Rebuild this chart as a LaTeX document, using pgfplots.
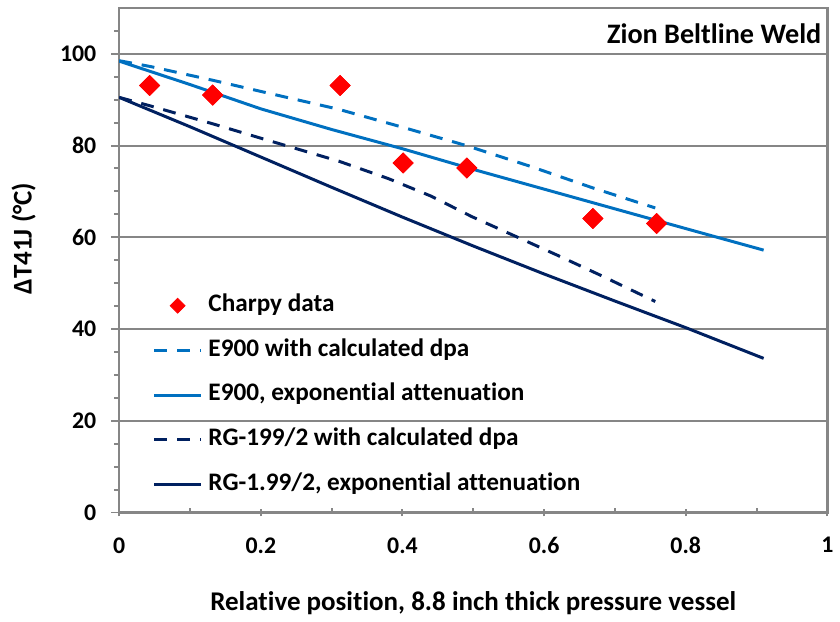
\documentclass[border=0pt]{standalone}
\usepackage{pgfplots}
\pgfplotsset{compat=1.18}
\usepackage{fontspec}
\setmainfont[Ligatures={NoCommon}]{Carlito}
\definecolor{lblue}{RGB}{0,112,192}
\definecolor{navy}{RGB}{0,32,96}
\definecolor{axgray}{RGB}{134,134,134}
\pgfplotsset{
  linelegend/.style={legend image code/.code={\draw[##1] (0pt,0pt) -- (23.5pt,0pt);}},
  marklegend/.style={legend image code/.code={\draw[##1] plot coordinates {(11.75pt,0pt)};}},
}
\begin{document}
\begin{tikzpicture}
\begin{axis}[
  scale only axis, width=356.5pt, height=254pt,
  xmin=0, xmax=1, ymin=0, ymax=110,
  xtick={0,0.2,0.4,0.6,0.8,1}, xticklabels={0,0.2,0.4,0.6,0.8,1},
  minor xtick={0.1,0.3,0.5,0.7,0.9},
  ytick={0,20,40,60,80,100},
  minor ytick={5,10,15,25,30,35,45,50,55,65,70,75,85,90,95,105},
  tick pos=left, tick align=outside,
  major tick length=4pt, minor tick length=2.5pt,
  every tick/.style={axgray, line width=1pt},
  every major x tick/.append style={yshift=2pt},
  every minor x tick/.append style={yshift=2.5pt},
  axis line style={axgray, line width=1.25pt},
  ymajorgrids=true,
  major grid style={axgray, line width=1pt},
  /pgf/number format/assume math mode=true,
  ticklabel style={font=\fontsize{12}{14}\selectfont\bfseries},
  xticklabel style={yshift=-5pt},
  yticklabel style={xshift=-4pt},
  xlabel={Relative position, 8.8 inch thick pressure vessel},
  ylabel={ΔT41J (°C)},
  xlabel style={font=\fontsize{13.6}{16}\selectfont\bfseries, at={(axis description cs:0.5,-0.18)}, anchor=center},
  ylabel style={font=\fontsize{13.6}{16}\selectfont\bfseries, at={(axis description cs:-0.135,0.543)}, anchor=center},
  legend style={draw=none, fill=none, at={(axis description cs:0.047,0.434)}, anchor=north west,
    font=\fontsize{12.7}{14}\selectfont\bfseries, row sep=10.6pt, inner sep=0pt,
    nodes={inner sep=0pt, text height=8.9pt, text depth=3pt}, /tikz/column sep=3pt},
  legend cell align=left,
  linelegend,
]
% Charpy data (legend entry)
\addplot[only marks, mark=square*, mark size=3.54pt, mark options={rotate=45, fill=red, draw=red},
  marklegend, legend image post style={mark size=2.65pt}]
  coordinates {(0.043,93.1) (0.132,91.0) (0.312,93.1) (0.401,76.2) (0.491,75.1) (0.669,64.1) (0.759,63.0)};
\addlegendentry{Charpy data}
% E900 with calculated dpa
\addplot[lblue, line width=1.5pt, dash pattern=on 6.5pt off 5pt]
  coordinates {(0,98.5) (0.045,97.2) (0.133,94.2) (0.2,91.8) (0.31,87.9) (0.4,84.0) (0.49,80.0) (0.58,75.5) (0.67,70.7) (0.757,66.4)};
\addlegendentry{E900 with calculated dpa}
% E900, exponential attenuation
\addplot[lblue, line width=1.5pt]
  coordinates {(0,98.4) (0.1,93.3) (0.2,88.0) (0.3,83.5) (0.4,79.3) (0.5,74.8) (0.6,70.5) (0.7,66.2) (0.8,61.9) (0.91,57.2)};
\addlegendentry{E900, exponential attenuation}
% RG-199/2 with calculated dpa
\addplot[navy, line width=1.5pt, dash pattern=on 6.5pt off 5pt]
  coordinates {(0,90.5) (0.045,88.6) (0.133,84.7) (0.2,81.6) (0.31,76.6) (0.38,72.8) (0.44,69.0) (0.498,64.5) (0.557,60.4) (0.62,56.0) (0.68,51.7) (0.757,46.0)};
\addlegendentry{RG-199/2 with calculated dpa}
% RG-1.99/2, exponential attenuation
\addplot[navy, line width=1.5pt]
  coordinates {(0,90.5) (0.1,84.1) (0.2,77.5) (0.3,70.9) (0.4,64.4) (0.5,58.1) (0.6,52.0) (0.7,46.1) (0.8,40.3) (0.91,33.6)};
\addlegendentry{RG-1.99/2, exponential attenuation}
% Charpy data on top
\addplot[only marks, mark=square*, mark size=3.54pt, mark options={rotate=45, fill=red, draw=red}, forget plot]
  coordinates {(0.043,93.1) (0.132,91.0) (0.312,93.1) (0.401,76.2) (0.491,75.1) (0.669,64.1) (0.759,63.0)};
\node[anchor=east, inner sep=0pt, font=\fontsize{14.2}{16}\selectfont\bfseries] at (axis description cs:0.992,0.949) {Zion Beltline Weld};
\end{axis}
\path[use as bounding box] (-60pt,-51.5pt) rectangle (360pt,258pt);
\end{tikzpicture}
\end{document}
